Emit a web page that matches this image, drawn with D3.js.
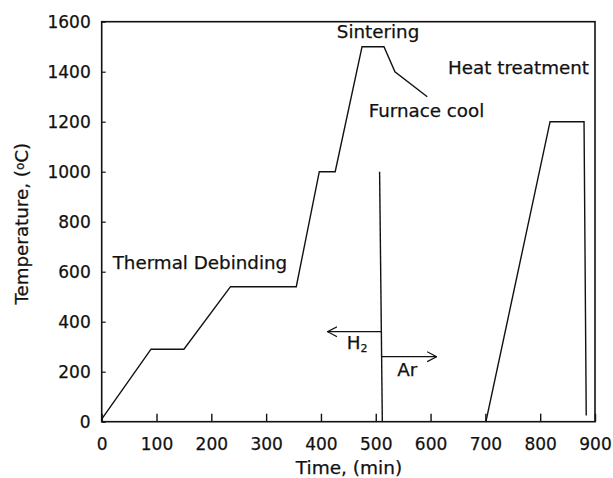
<!DOCTYPE html>
<html>
<head>
<meta charset="utf-8">
<script src="https://cdn.jsdelivr.net/npm/d3@7"></script>
<style>
  body { margin: 0; background: #fff; }
  text { font-family: "DejaVu Sans", sans-serif; fill: #111; stroke: #111; stroke-width: 0.25px; }
</style>
</head>
<body>
<div id="container"></div>
<script>
// sintering cycle
const mainTime = [0, 90, 150, 235, 355, 397, 426, 475, 515, 535, 594]
const mainTemp = [10, 290, 290, 540, 540, 1000, 1000, 1500, 1500, 1400, 1300]

// heat treatment cycle
const heatTime = [701, 818, 880, 884]
const heatTemp = [0, 1200, 1200, 25]

// H2 -> Ar switch line
const switchTime = [507, 512]
const switchTemp = [1000, 0]

// gas arrows: [fromTime, toTime, temp]
const arrowH2 = [510, 412, 360]
const arrowAr = [510, 611, 260]

const xTicks = [0, 100, 200, 300, 400, 500, 600, 700, 800, 900]
const yTicks = [0, 200, 400, 600, 800, 1000, 1200, 1400, 1600]

const labelText = ["Sintering", "Heat treatment", "Furnace cool", "Thermal Debinding", "Ar"]
const labelTime = [429, 632, 487, 20, 539]
const labelTemp = [1533, 1391, 1220, 610, 183]

const width = 613, height = 478
const margin = {left: 101.7, right: 18, top: 21.7, bottom: 56.3}

const svg = d3.create("svg")
  .attr("width", width)
  .attr("height", height)
container.append(svg.node())

const x = d3.scaleLinear().domain([0, 900]).range([margin.left, width - margin.right])
const y = d3.scaleLinear().domain([0, 1600]).range([height - margin.bottom, margin.top])

// frame
svg.append("rect")
  .attr("x", x(0)).attr("y", y(1600))
  .attr("width", x(900) - x(0)).attr("height", y(0) - y(1600))
  .style("fill", "none").style("stroke", "#111").style("stroke-width", 1.6)

// axes, ticks inside
const xAxis = svg.append("g")
  .attr("transform", `translate(0,${y(0)})`)
  .call(d3.axisBottom(x).tickValues(xTicks).tickSize(-8).tickPadding(16).tickFormat(d3.format("d")))
xAxis.select(".domain").remove()
xAxis.selectAll("line").style("stroke", "#111").style("stroke-width", 1.4)
xAxis.selectAll("text").style("font-size", "17px").style("fill", "#111")

const yAxis = svg.append("g")
  .attr("transform", `translate(${x(0)},0)`)
  .call(d3.axisLeft(y).tickValues(yTicks).tickSize(-4).tickPadding(11).tickFormat(d3.format("d")))
yAxis.select(".domain").remove()
yAxis.selectAll("line").style("stroke", "#111").style("stroke-width", 1.2)
yAxis.selectAll("text").style("font-size", "17px").style("fill", "#111").attr("dy", "0.36em")

// axis titles
svg.append("text")
  .attr("x", 349)
  .attr("y", 474)
  .attr("text-anchor", "middle")
  .style("font-size", "18.5px")
  .text("Time, (min)")

const yt = svg.append("text")
  .attr("transform", `translate(28,${(y(0) + y(1600)) / 2 + 2}) rotate(-90)`)
  .attr("text-anchor", "middle")
  .style("font-size", "18.3px")
yt.append("tspan").text("Temperature, (")
yt.append("tspan").attr("baseline-shift", "35%").style("font-size", "12px").text("o")
yt.append("tspan").text("C)")

const line = d3.line().x(d => x(d[0])).y(d => y(d[1]))
const curve = (ts, vs) => ts.map((t, i) => [t, vs[i]])

svg.append("path")
  .attr("d", line(curve(mainTime, mainTemp)))
  .style("fill", "none").style("stroke", "#111").style("stroke-width", 1.4)

svg.append("path")
  .attr("d", line(curve(heatTime, heatTemp)))
  .style("fill", "none").style("stroke", "#111").style("stroke-width", 1.4)

svg.append("path")
  .attr("d", line(curve(switchTime, switchTemp)))
  .style("fill", "none").style("stroke", "#111").style("stroke-width", 1.4)

// open arrow heads
svg.append("defs").append("marker")
  .attr("id", "head")
  .attr("viewBox", "0 0 10 10")
  .attr("refX", 9.5).attr("refY", 5)
  .attr("markerWidth", 10).attr("markerHeight", 12)
  .attr("markerUnits", "userSpaceOnUse")
  .attr("orient", "auto")
  .append("path")
  .attr("d", "M0,0 L9.5,5 L0,10")
  .style("fill", "none").style("stroke", "#111").style("stroke-width", 1.2)

;[arrowH2, arrowAr].forEach(([t0, t1, v]) => {
  svg.append("path")
    .attr("d", line([[t0, v], [t1, v]]))
    .attr("marker-end", "url(#head)")
    .style("fill", "none").style("stroke", "#111").style("stroke-width", 1.3)
})

// annotations
svg.selectAll(".lbl")
  .data(labelText)
  .join("text")
  .attr("class", "lbl")
  .attr("x", (d, i) => x(labelTime[i]))
  .attr("y", (d, i) => y(labelTemp[i]))
  .style("font-size", "18.3px")
  .text(d => d)

const h2 = svg.append("text")
  .attr("x", x(447)).attr("y", y(290))
  .style("font-size", "18.3px")
h2.append("tspan").text("H")
h2.append("tspan").attr("baseline-shift", "-30%").style("font-size", "11px").text("2")
</script>
</body>
</html>
